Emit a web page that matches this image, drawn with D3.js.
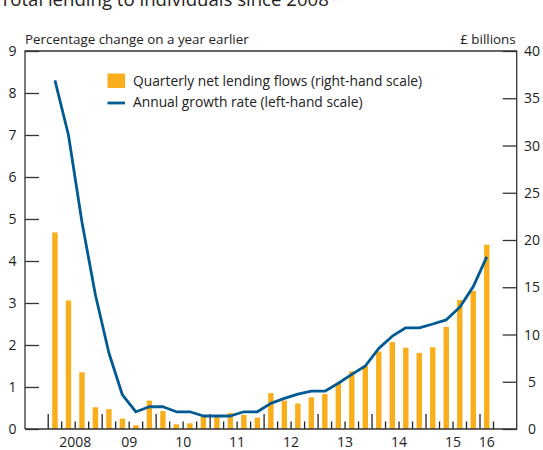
<!DOCTYPE html>
<html><head><meta charset="utf-8">
<script src="https://cdn.jsdelivr.net/npm/d3@7"></script>
<style>body{margin:0;background:#fff;} svg{display:block;font-family:"Open Sans",sans-serif;}</style>
</head><body>
<script>
// ---- data ----
const quarters = [
 "2008Q1","2008Q2","2008Q3","2008Q4","2009Q1","2009Q2","2009Q3","2009Q4",
 "2010Q1","2010Q2","2010Q3","2010Q4","2011Q1","2011Q2","2011Q3","2011Q4",
 "2012Q1","2012Q2","2012Q3","2012Q4","2013Q1","2013Q2","2013Q3","2013Q4",
 "2014Q1","2014Q2","2014Q3","2014Q4","2015Q1","2015Q2","2015Q3","2015Q4","2016Q1"];
const lendingFlows = [20.8,13.6,6.0,2.3,2.1,1.1,0.4,3.0,1.9,0.5,0.6,1.3,1.3,1.7,1.5,1.2,
 3.8,3.0,2.7,3.35,3.7,4.9,6.1,6.7,8.2,9.2,8.6,8.05,8.65,10.8,13.65,14.6,19.5];
const growthRate = [8.3,7.0,4.93,3.19,1.81,0.81,0.41,0.53,0.53,0.41,0.41,0.31,0.31,0.31,0.41,0.41,
 0.61,0.73,0.83,0.9,0.9,1.09,1.3,1.5,1.92,2.21,2.41,2.41,2.5,2.6,2.9,3.39,4.1];
const leftTicks = [0,1,2,3,4,5,6,7,8,9];
const rightTicks = [0,5,10,15,20,25,30,35,40];
const years = [2008,2009,2010,2011,2012,2013,2014,2015,2016];
const yearLabels = ["2008","09","10","11","12","13","14","15","16"];
const titleText = "Total lending to individuals since 2008";
const leftAxisTitle = "Percentage change on a year earlier";
const rightAxisTitle = "£ billions";
const legendLabels = ["Quarterly net lending flows (right-hand scale)","Annual growth rate (left-hand scale)"];

const barColor = "#F9AE1C", lineColor = "#005B92", inkColor = "#333";

// ---- layout ----
const W = 543, H = 450;
const L = 25, R = 516.7, T = 51, B = 429;
const svg = d3.select("body").append("svg").attr("width", W).attr("height", H);

const qTime = q => +q.slice(0,4) + (+q.slice(5) - 1) / 4;   // start of quarter
const x = d3.scaleLinear().domain([2007.57, 2016.68]).range([L, R]);
const yL = d3.scaleLinear().domain([0, 9]).range([B, T]);
const yR = d3.scaleLinear().domain([0, 40]).range([B, T]);
const qw = x(2008.25) - x(2008);

// title (cut off at top, as in the original)
const tt = svg.append("text").attr("x", 0).attr("y", 6).attr("font-size", 18.6).attr("fill", "#222").text(titleText);
tt.append("tspan").attr("font-size", 10).attr("dy", -7).attr("fill","#999").text(" (1)");

// axis titles
svg.append("text").attr("x", L).attr("y", 44).attr("font-size", 13.4).attr("fill", "#222").text(leftAxisTitle);
svg.append("text").attr("x", R - 1).attr("y", 44).attr("font-size", 13.4).attr("fill", "#222").attr("text-anchor","end").text(rightAxisTitle);

// bars
svg.append("g").selectAll("rect").data(lendingFlows).join("rect")
  .attr("x", (d,i) => x(qTime(quarters[i])) + qw/2 - 2.7)
  .attr("width", 5.4)
  .attr("y", d => yR(d))
  .attr("height", d => B - yR(d))
  .attr("fill", barColor);

// x ticks (inside, upward)
const quarterTicks = d3.range(years[0]*4, (years[years.length-1])*4 + 2).map(v => v/4);
svg.append("g").selectAll("line").data(quarterTicks).join("line")
  .attr("x1", d => x(d)).attr("x2", d => x(d))
  .attr("y1", B).attr("y2", d => Number.isInteger(d) ? B - 15 : B - 7.5)
  .attr("stroke", "#222").attr("stroke-width", 1.3);

// growth line
const line = d3.line().x((d,i) => x(qTime(quarters[i])) + qw/2).y(d => yL(d));
svg.append("path").datum(growthRate).attr("d", line)
  .attr("fill", "none").attr("stroke", lineColor).attr("stroke-width", 2.8).attr("stroke-linejoin","round");

// frame
svg.append("path").attr("d", `M${L},${B}V${T}H${R}V${B}H${L}`).attr("fill","none").attr("stroke", inkColor).attr("stroke-width", 1.3);

// left axis ticks inward
const gl = svg.append("g").attr("transform", `translate(${L},0)`)
  .call(d3.axisRight(yL).tickValues(leftTicks).tickSize(14).tickFormat(""));
gl.select(".domain").remove();
gl.selectAll("line").attr("stroke", inkColor).attr("stroke-width", 1.3);
svg.append("g").selectAll("text").data(leftTicks).join("text")
  .attr("x", 12.5).attr("y", d => yL(d)).attr("dy", "0.36em").attr("text-anchor","middle")
  .attr("font-size", 14).attr("fill","#222").text(d => d);

// right axis ticks inward
const gr = svg.append("g").attr("transform", `translate(${R},0)`)
  .call(d3.axisLeft(yR).tickValues(rightTicks).tickSize(14).tickFormat(""));
gr.select(".domain").remove();
gr.selectAll("line").attr("stroke", inkColor).attr("stroke-width", 1.3);
svg.append("g").selectAll("text").data(rightTicks).join("text")
  .attr("x", 532).attr("y", d => yR(d)).attr("dy", "0.36em").attr("text-anchor","middle")
  .attr("font-size", 14).attr("fill","#222").text(d => d);

// year labels centred on the quarters with data in each year
svg.append("g").selectAll("text").data(years).join("text")
  .attr("x", yr => {
    const qs = quarters.filter(q => +q.slice(0,4) === yr).map(qTime);
    return (x(d3.min(qs)) + x(d3.max(qs) + 0.25)) / 2;
  })
  .attr("y", 447).attr("text-anchor","middle").attr("font-size", 14).attr("fill","#222")
  .text((d,i) => yearLabels[i]);

// legend
const lg = svg.append("g");
lg.append("rect").attr("x", 107.5).attr("y", 73.5).attr("width", 17.5).attr("height", 14.5).attr("fill", barColor);
lg.append("line").attr("x1", 107.5).attr("x2", 125).attr("y1", 103).attr("y2", 103).attr("stroke", lineColor).attr("stroke-width", 2.8);
lg.append("text").attr("x", 133).attr("y", 81).attr("dy","0.36em").attr("font-size", 13.8).attr("fill","#222").text(legendLabels[0]);
lg.append("text").attr("x", 133).attr("y", 102).attr("dy","0.36em").attr("font-size", 13.8).attr("fill","#222").text(legendLabels[1]);
</script>
</body></html>
